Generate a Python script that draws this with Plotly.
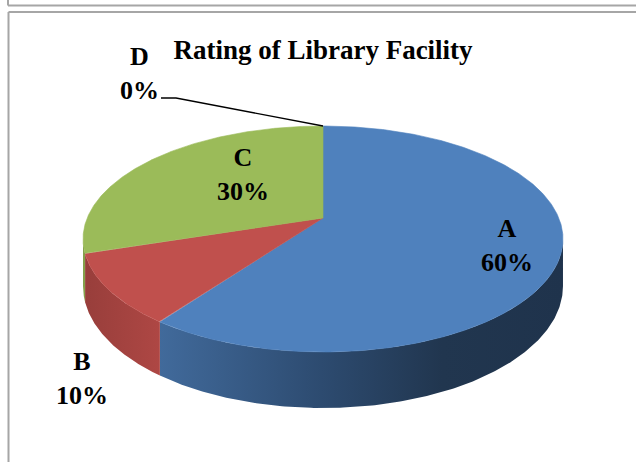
import numpy as np
import plotly.graph_objects as go

# ---- data ----
categories = ["A", "B", "C", "D"]
values = [60, 10, 30, 0]
title_text = "Rating of Library Facility"

# ---- styles ----
top_colors = ["#4f81bd", "#c0504d", "#9bbb59", "#8064a2"]
side_scales = [
    [[0, "#416a9b"], [0.4, "#2d4b70"], [0.7, "#21364f"], [1, "#1f334c"]],
    [[0, "#983e3b"], [1, "#ae4744"]],
    [[0, "#7f9c47"], [1, "#86a34b"]],
    [[0, "#67518a"], [1, "#67518a"]],
]
FONT = "Liberation Serif"

# geometry of the tilted (perspective) disk in pixel space
CX, CY = 323.0, 218.0
RX, RY, K, DEPTH = 235.8, 109.1, 0.1858, 45.6


def proj(theta_deg, drop=0.0):
    th = np.radians(theta_deg)
    u, v = np.sin(th), -np.cos(th)
    w = 1 - K * v
    return CX + RX * u / w, CY + (RY * v + drop) / w


total = float(sum(values))
fracs = [v / total for v in values]
starts = np.concatenate([[0], np.cumsum(fracs)[:-1]]) * 360
ends = np.cumsum(fracs) * 360

sil = np.degrees(np.arccos(-K))  # silhouette angles
vis_lo, vis_hi = sil, 360 - sil

fig = go.Figure()

# sides
for i, cat in enumerate(categories):
    a, b = max(starts[i], vis_lo), min(ends[i], vis_hi)
    if b <= a:
        continue
    t = np.linspace(a, b, 200)
    xt, yt = proj(t)
    xb, yb = proj(t[::-1], DEPTH)
    xs = np.concatenate([xt, xb, xt[:1]])
    ys = np.concatenate([yt, yb, yt[:1]])
    fig.add_trace(go.Scatter(
        x=xs, y=ys, mode="lines", fill="toself", line=dict(width=0),
        fillgradient=dict(type="horizontal", colorscale=side_scales[i],
                          start=float(xs.min()), stop=float(xs.max())),
        hoverinfo="skip", showlegend=False))

# top faces
for i, cat in enumerate(categories):
    if ends[i] - starts[i] <= 0:
        continue
    t = np.linspace(starts[i], ends[i], 400)
    xt, yt = proj(t)
    xs = np.concatenate([[CX], xt, [CX]])
    ys = np.concatenate([[CY], yt, [CY]])
    fig.add_trace(go.Scatter(
        x=xs, y=ys, mode="lines", fill="toself",
        line=dict(width=0.6, color=top_colors[i]),
        fillcolor=top_colors[i], hoverinfo="skip", showlegend=False))

# leader line for zero slice D
dx, dy = proj(ends[3])
fig.add_trace(go.Scatter(
    x=[161, 176, dx], y=[98, 98, dy], mode="lines",
    line=dict(color="black", width=1.3), hoverinfo="skip", showlegend=False))

# labels
label_pos = {"A": (507, 245), "B": (82, 378), "C": (243, 174), "D": (139, 73)}
for cat, v in zip(categories, values):
    x, y = label_pos[cat]
    fig.add_annotation(x=x, y=y, text=f"<b>{cat}<br>{v / total * 100:.0f}%</b>",
                       showarrow=False, xanchor="center", yanchor="middle",
                       font=dict(family=FONT, size=26, color="black"))

# frame lines
border = dict(color="#a6a6a6", width=2)
fig.add_shape(type="line", x0=8, y0=0, x1=8, y1=5.5, line=border)
fig.add_shape(type="line", x0=8, y0=5.5, x1=636, y1=5.5, line=border)
fig.add_shape(type="line", x0=8.5, y0=12, x1=636, y1=12, line=border)
fig.add_shape(type="line", x0=8.5, y0=12, x1=8.5, y1=462, line=border)

fig.update_layout(
    width=636, height=462,
    margin=dict(l=0, r=0, t=0, b=0),
    paper_bgcolor="white", plot_bgcolor="white",
    title=dict(text=f"<b>{title_text}</b>", x=323 / 636, xanchor="center",
               y=1 - 50 / 462, yanchor="middle",
               font=dict(family=FONT, size=27, color="black")),
    xaxis=dict(range=[0, 636], visible=False, fixedrange=True),
    yaxis=dict(range=[462, 0], visible=False, fixedrange=True),
    showlegend=False,
)

fig.write_html("out.html",
               config={"displayModeBar": False},
               post_script="document.body.style.margin='0';"
                           "document.body.style.overflow='hidden';")
